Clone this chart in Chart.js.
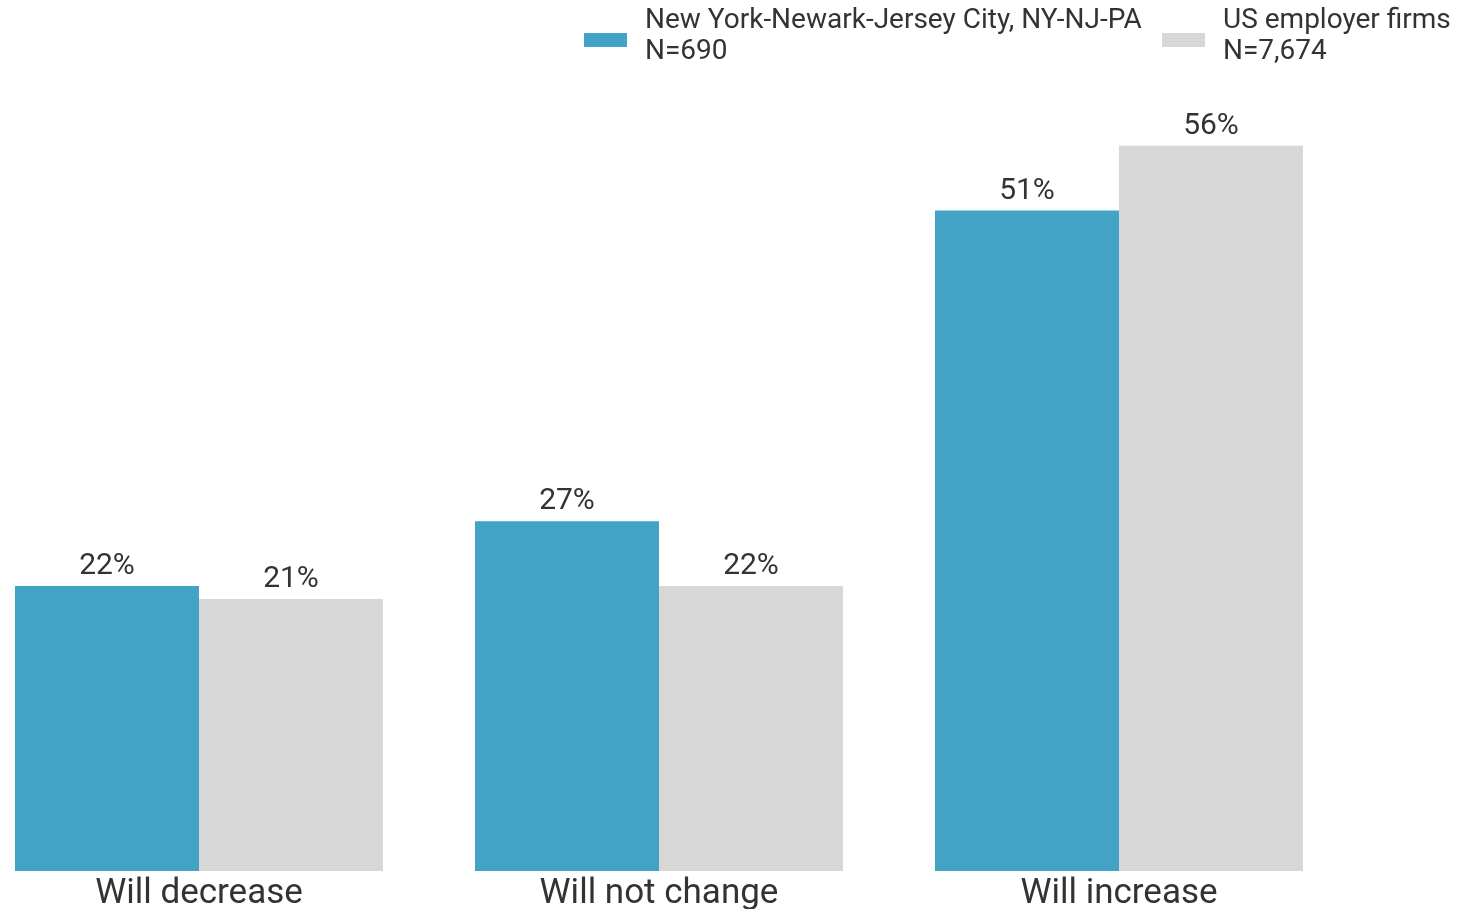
<!DOCTYPE html>
<html>
<head>
<meta charset="utf-8">
<script src="https://cdn.jsdelivr.net/npm/chart.js@4.4.1/dist/chart.umd.min.js"></script>
<style>
  html, body { margin: 0; padding: 0; background: #fff; overflow: hidden; }
  #caja { position: absolute; left: -31px; top: 0; width: 1489px; height: 912px; }
</style>
</head>
<body>
<div id="caja"><canvas id="grafico"></canvas></div>
<script>
// datos del grafico
const categorias = ['Will decrease', 'Will not change', 'Will increase'];
const nuevaYork = [22, 27, 51];
const estadosUnidos = [21, 22, 56];
const nombresSeries = [
    ['New York-Newark-Jersey City, NY-NJ-PA', 'N=690'],
    ['US employer firms', 'N=7,674']
];
const coloresSeries = ['#42a3c7', '#d7d7d7'];

const FUENTE = 'Roboto, "Noto Sans", sans-serif';
const DESPLAZAMIENTO = 31; // el canvas empieza 31px a la izquierda de la pagina

/**
 * escribe el porcentaje encima de cada barra
 */
const etiquetasBarras = {
    id: 'etiquetasBarras',
    afterDatasetsDraw(chart) {
        const ctx = chart.ctx;
        ctx.save();
        ctx.font = '30px ' + FUENTE;
        ctx.fillStyle = '#333333';
        ctx.textAlign = 'center';
        ctx.textBaseline = 'alphabetic';
        chart.data.datasets.forEach((ds, i) => {
            const meta = chart.getDatasetMeta(i);
            meta.data.forEach((barra, j) => {
                ctx.fillText(ds.data[j] + '%', barra.x, barra.y - 12);
            });
        });
        ctx.restore();
    }
};

/**
 * leyenda de dos lineas arriba a la derecha
 */
const leyenda = {
    id: 'leyenda',
    afterDraw(chart) {
        const ctx = chart.ctx;
        const posiciones = [584, 1162];
        ctx.save();
        ctx.font = '28px ' + FUENTE;
        ctx.textAlign = 'left';
        ctx.textBaseline = 'middle';
        chart.data.datasets.forEach((ds, i) => {
            const x = posiciones[i] + DESPLAZAMIENTO;
            ctx.fillStyle = ds.backgroundColor;
            ctx.fillRect(x, 33, 43, 14);
            ctx.fillStyle = '#333333';
            nombresSeries[i].forEach((linea, k) => {
                ctx.fillText(linea, x + 61, 21 + k * 31);
            });
        });
        ctx.restore();
    }
};

new Chart(document.getElementById('grafico'), {
    type: 'bar',
    data: {
        labels: categorias,
        datasets: [
            { label: nombresSeries[0].join(' '), data: nuevaYork, backgroundColor: coloresSeries[0] },
            { label: nombresSeries[1].join(' '), data: estadosUnidos, backgroundColor: coloresSeries[1] }
        ]
    },
    options: {
        responsive: true,
        maintainAspectRatio: false,
        animation: false,
        layout: { padding: { top: 94, right: 109, left: 0, bottom: 3 } },
        datasets: {
            bar: { categoryPercentage: 0.8, barPercentage: 1.0, borderWidth: 0 }
        },
        plugins: {
            legend: { display: false },
            tooltip: { enabled: false }
        },
        scales: {
            x: {
                grid: { display: false },
                border: { display: false },
                ticks: {
                    color: '#333333',
                    font: { family: FUENTE, size: 35, lineHeight: 1.03 },
                    padding: -3
                }
            },
            y: {
                display: false,
                min: 0,
                max: 60
            }
        }
    },
    plugins: [etiquetasBarras, leyenda]
});
</script>
</body>
</html>
